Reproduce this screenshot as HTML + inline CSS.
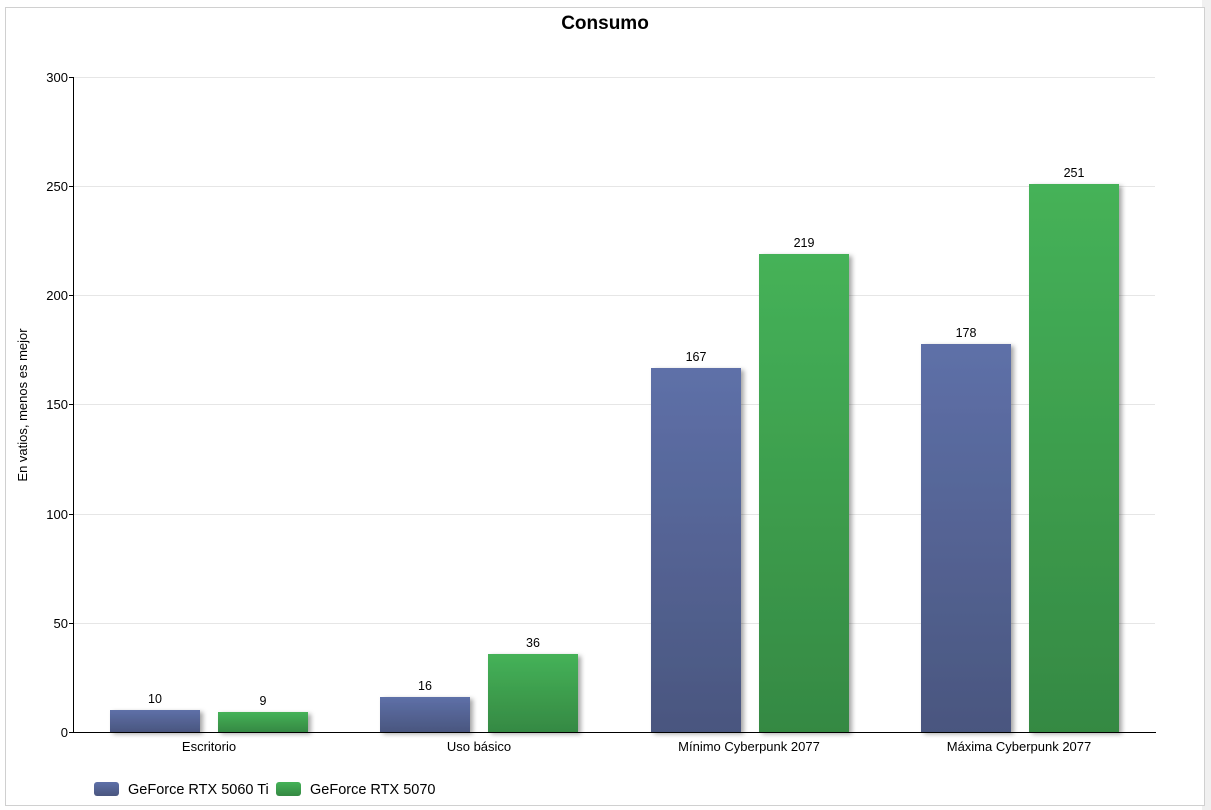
<!DOCTYPE html>
<html><head><meta charset="utf-8"><style>
body{margin:0;background:#fff;width:1211px;height:810px;overflow:hidden}
svg{display:block;font-family:"Segoe UI","Liberation Sans",sans-serif}
</style></head><body>
<svg width="1211" height="810" viewBox="0 0 1211 810">
<defs>
<linearGradient id="b" x1="0" y1="0" x2="0" y2="1"><stop offset="0" stop-color="#5e70a8"/><stop offset="1" stop-color="#4a567f"/></linearGradient>
<linearGradient id="g" x1="0" y1="0" x2="0" y2="1"><stop offset="0" stop-color="#45b258"/><stop offset="1" stop-color="#358943"/></linearGradient>
<filter id="s" x="-20%" y="-20%" width="150%" height="150%"><feDropShadow dx="3" dy="2" stdDeviation="2.5" flood-color="#000" flood-opacity="0.35"/></filter>
</defs>
<rect x="1202" y="0" width="9" height="810" fill="#f0f0f0"/>
<rect x="5.5" y="7.5" width="1199" height="798" fill="#fff" stroke="#d0d0d0"/>
<text x="605" y="29" text-anchor="middle" font-size="19" font-weight="bold" fill="#000">Consumo</text>
<g stroke="#e6e6e6" stroke-width="1">
<line x1="74" x2="1155" y1="77.5" y2="77.5"/><line x1="74" x2="1155" y1="186.5" y2="186.5"/>
<line x1="74" x2="1155" y1="295.5" y2="295.5"/><line x1="74" x2="1155" y1="404.5" y2="404.5"/>
<line x1="74" x2="1155" y1="514.5" y2="514.5"/><line x1="74" x2="1155" y1="623.5" y2="623.5"/>
</g>
<line x1="73.5" x2="73.5" y1="77" y2="733" stroke="#000"/>
<line x1="73" x2="1156" y1="732.5" y2="732.5" stroke="#000"/>
<g font-size="13" fill="#000" text-anchor="end">
<text x="68" y="82">300</text><text x="68" y="191">250</text><text x="68" y="300">200</text>
<text x="68" y="409">150</text><text x="68" y="519">100</text><text x="68" y="628">50</text><text x="68" y="737">0</text>
</g>
<g stroke="#000"><line x1="69" x2="74" y1="77.5" y2="77.5"/><line x1="69" x2="74" y1="186.5" y2="186.5"/><line x1="69" x2="74" y1="295.5" y2="295.5"/><line x1="69" x2="74" y1="404.5" y2="404.5"/><line x1="69" x2="74" y1="514.5" y2="514.5"/><line x1="69" x2="74" y1="623.5" y2="623.5"/><line x1="69" x2="74" y1="732.5" y2="732.5"/></g>
<text transform="translate(27,405) rotate(-90)" text-anchor="middle" font-size="13">En vatios, menos es mejor</text>
<g filter="url(#s)">
<rect x="110" y="710" width="90" height="22" fill="url(#b)"/>
<rect x="218" y="712" width="90" height="20" fill="url(#g)"/>
<rect x="380" y="697" width="90" height="35" fill="url(#b)"/>
<rect x="488" y="654" width="90" height="78" fill="url(#g)"/>
<rect x="651" y="368" width="90" height="364" fill="url(#b)"/>
<rect x="759" y="254" width="90" height="478" fill="url(#g)"/>
<rect x="921" y="344" width="90" height="388" fill="url(#b)"/>
<rect x="1029" y="184" width="90" height="548" fill="url(#g)"/>
</g>
<g font-size="12.5" text-anchor="middle" fill="#000">
<text x="155" y="703">10</text><text x="263" y="705">9</text>
<text x="425" y="690">16</text><text x="533" y="647">36</text>
<text x="696" y="361">167</text><text x="804" y="247">219</text>
<text x="966" y="337">178</text><text x="1074" y="177">251</text>
</g>
<g font-size="13" text-anchor="middle" fill="#000">
<text x="209" y="751">Escritorio</text><text x="479" y="751">Uso básico</text>
<text x="749" y="751">Mínimo Cyberpunk 2077</text><text x="1019" y="751">Máxima Cyberpunk 2077</text>
</g>
<rect x="94" y="782" width="25" height="14" rx="3" fill="url(#b)"/>
<text x="128" y="794" font-size="14.5">GeForce RTX 5060 Ti</text>
<rect x="276" y="782" width="25" height="14" rx="3" fill="url(#g)"/>
<text x="310" y="794" font-size="14.5">GeForce RTX 5070</text>
</svg>
</body></html>
